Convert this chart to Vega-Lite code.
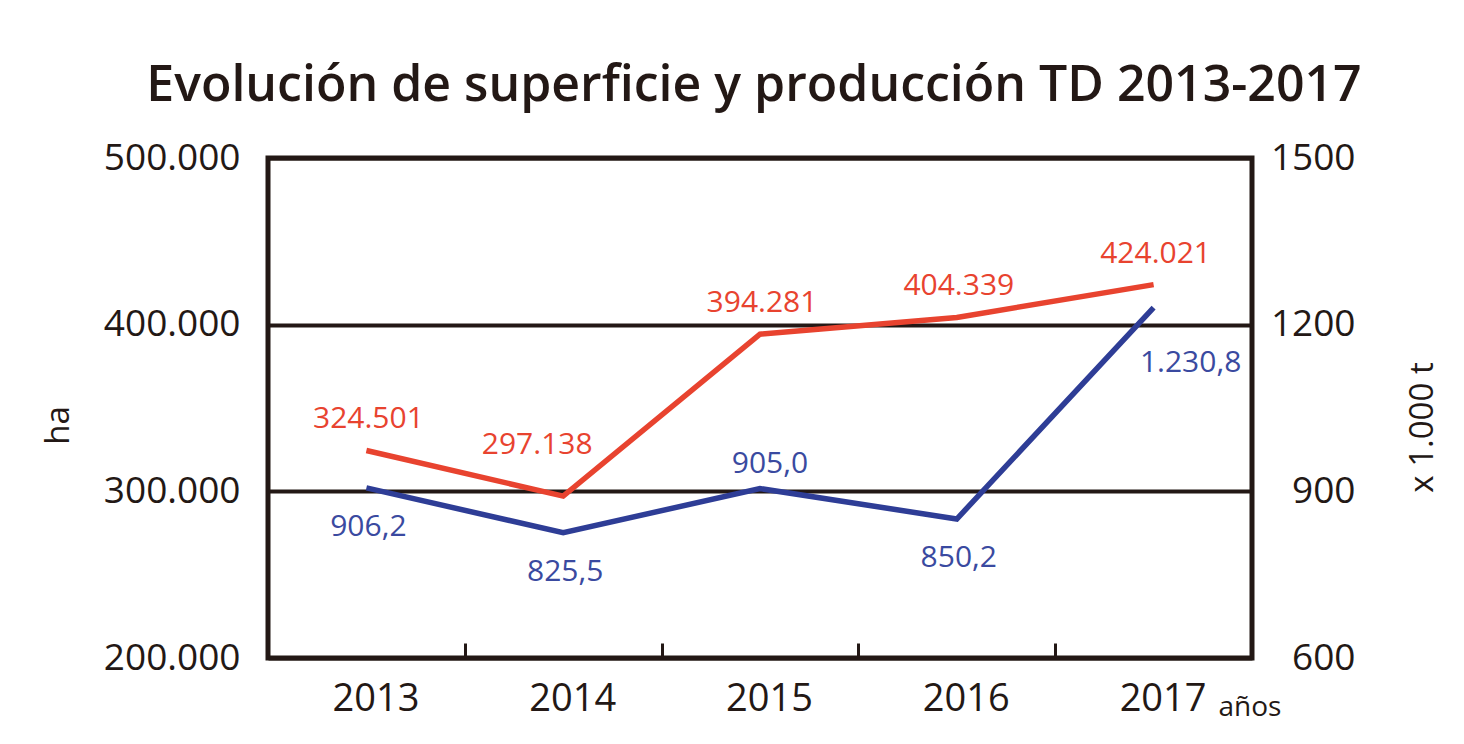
{
  "$schema": "https://vega.github.io/schema/vega-lite/v6.json",
  "width": 984,
  "height": 500,
  "autosize": {"type": "none"},
  "padding": {"left": 268, "top": 158, "right": 212, "bottom": 86},
  "background": "white",
  "title": {
    "text": "Evolución de superficie y producción TD 2013-2017",
    "font": "Open Sans",
    "fontSize": 50,
    "fontWeight": 600,
    "color": "#231815",
    "anchor": "middle",
    "frame": "group",
    "baseline": "alphabetic",
    "offset": 58,
    "dy": 70,
    "dx": -6
  },
  "config": {
    "view": {"stroke": "#231815", "strokeWidth": 5},
    "axis": {
      "domain": false,
      "labelFont": "Open Sans",
      "titleFont": "Open Sans",
      "labelColor": "#231815",
      "titleColor": "#231815"
    },
    "text": {"font": "Open Sans", "fontSize": 30, "baseline": "alphabetic", "align": "center"}
  },
  "data": {
    "values": [
      {"year": 2013, "superficie": 324501, "produccion": 906.2},
      {"year": 2014, "superficie": 297138, "produccion": 825.5},
      {"year": 2015, "superficie": 394281, "produccion": 905.0},
      {"year": 2016, "superficie": 404339, "produccion": 850.2},
      {"year": 2017, "superficie": 424021, "produccion": 1230.8}
    ]
  },
  "transform": [
    {"calculate": "replace(format(datum.superficie, ','), ',', '.')", "as": "supLabel"},
    {"calculate": "replace(replace(replace(format(datum.produccion, ',.1f'), ',', '_'), '.', ','), '_', '.')", "as": "prodLabel"}
  ],
  "encoding": {
    "x": {
      "field": "year",
      "type": "ordinal",
      "bandPosition": 0.5,
      "scale": {"type": "band", "paddingInner": 0, "paddingOuter": 0},
      "axis": {
        "title": "años",
        "labelAngle": 0,
        "labelFontSize": 38,
        "labelPadding": 37,
        "labelOffset": 9,
        "tickBand": "extent",
        "tickSize": -15,
        "tickWidth": 3,
        "tickColor": "#231815",
        "grid": false,
        "titleX": 950,
        "titleY": 57,
        "titleAlign": "left",
        "titleBaseline": "alphabetic",
        "titleFontSize": 28,
        "titleFontWeight": "normal"
      }
    }
  },
  "layer": [
    {
      "encoding": {
        "y": {
          "field": "superficie",
          "type": "quantitative",
          "scale": {"domain": [200000, 500000], "nice": false, "zero": false},
          "axis": {
            "title": "ha",
            "orient": "left",
            "values": [200000, 300000, 400000, 500000],
            "labelExpr": "replace(format(datum.value, ','), ',', '.')",
            "labelFontSize": 37,
            "labelPadding": 28,
            "ticks": false,
            "grid": true,
            "gridColor": "#231815",
            "gridWidth": 4,
            "gridOpacity": 1,
            "titleFontSize": 33,
            "titleFontWeight": "normal",
            "titleAngle": 270,
            "titleX": -200,
            "titleY": 267,
            "titleAlign": "center",
            "titleBaseline": "alphabetic"
          }
        }
      },
      "layer": [
        {"mark": {"type": "line", "color": "#e8432f", "strokeWidth": 5.5}},
        {
          "transform": [{"filter": "datum.year != 2014"}],
          "mark": {"type": "text", "color": "#e8432f", "dx": 2, "dy": -22},
          "encoding": {"text": {"field": "supLabel"}}
        },
        {
          "transform": [{"filter": "datum.year == 2014"}],
          "mark": {"type": "text", "color": "#e8432f", "dx": -26, "dy": -42},
          "encoding": {"text": {"field": "supLabel"}}
        }
      ]
    },
    {
      "encoding": {
        "y": {
          "field": "produccion",
          "type": "quantitative",
          "scale": {"domain": [600, 1500], "nice": false, "zero": false},
          "axis": {
            "title": "x 1.000 t",
            "orient": "right",
            "values": [600, 900, 1200, 1500],
            "format": "d",
            "labelAlign": "right",
            "labelPadding": 103,
            "labelFontSize": 37,
            "ticks": false,
            "grid": false,
            "titleFontSize": 33,
            "titleFontWeight": "normal",
            "titleAngle": 270,
            "titleX": 180,
            "titleY": 269,
            "titleAlign": "center",
            "titleBaseline": "alphabetic"
          }
        }
      },
      "layer": [
        {"mark": {"type": "line", "color": "#2e3d96", "strokeWidth": 5.5}},
        {
          "transform": [{"filter": "datum.year == 2013 || datum.year == 2014 || datum.year == 2016"}],
          "mark": {"type": "text", "color": "#3a4aa0", "dx": 2, "dy": 48},
          "encoding": {"text": {"field": "prodLabel"}}
        },
        {
          "transform": [{"filter": "datum.year == 2015"}],
          "mark": {"type": "text", "color": "#3a4aa0", "dx": 10, "dy": -16},
          "encoding": {"text": {"field": "prodLabel"}}
        },
        {
          "transform": [{"filter": "datum.year == 2017"}],
          "mark": {"type": "text", "color": "#3a4aa0", "dx": 37, "dy": 64},
          "encoding": {"text": {"field": "prodLabel"}}
        }
      ]
    }
  ],
  "resolve": {"scale": {"y": "independent"}}
}
